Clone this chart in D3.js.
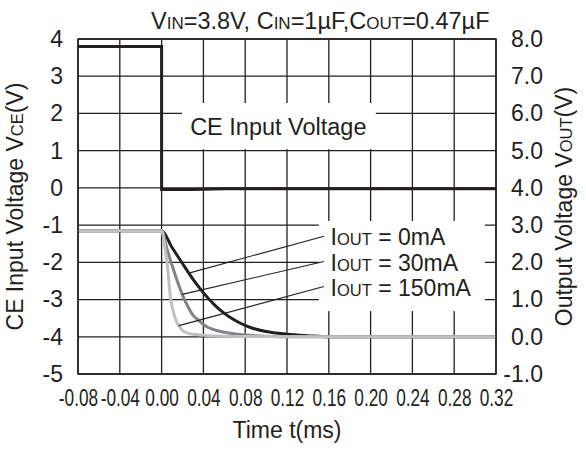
<!DOCTYPE html>
<html>
<head>
<meta charset="utf-8">
<script src="https://cdn.jsdelivr.net/npm/d3@7"></script>
<style>
  body { margin: 0; background: #fff; }
  text { font-family: "Liberation Sans", Arial, Helvetica, sans-serif; fill: #231f20; }
</style>
</head>
<body>
<svg id="viz" width="586" height="450"></svg>
<script>
// axis ticks
var timeTicks = [-0.08, -0.04, 0.00, 0.04, 0.08, 0.12, 0.16, 0.20, 0.24, 0.28, 0.32];
var ceTicks = [-5, -4, -3, -2, -1, 0, 1, 2, 3, 4];
var outTicks = [-1, 0, 1, 2, 3, 4, 5, 6, 7, 8];

// CE input voltage (left axis, V)
var ceTime = [-0.08, 0, 0, 0.03, 0.06, 0.32];
var ceVolt = [3.8, 3.8, -0.04, -0.04, -0.02, -0.02];

// output voltage (right axis, V)
var t0mA = [-0.08, 0, 0.01, 0.02, 0.026, 0.036, 0.045, 0.055, 0.065, 0.075, 0.085, 0.1, 0.12, 0.14, 0.16, 0.32];
var v0mA = [2.85, 2.85, 2.4, 1.97, 1.71, 1.32, 1.02, 0.74, 0.53, 0.37, 0.25, 0.14, 0.07, 0.03, 0, 0];
var t30mA = [-0.08, 0, 0.005, 0.01, 0.015, 0.02, 0.025, 0.03, 0.035, 0.042, 0.05, 0.06, 0.075, 0.09, 0.12, 0.32];
var v30mA = [2.85, 2.85, 2.38, 1.92, 1.5, 1.12, 0.82, 0.58, 0.45, 0.29, 0.19, 0.12, 0.06, 0.03, 0, 0];
var t150mA = [-0.08, 0, 0.003, 0.0055, 0.0085, 0.011, 0.0135, 0.0165, 0.02, 0.025, 0.0325, 0.045, 0.07, 0.32];
var v150mA = [2.85, 2.85, 2.45, 1.92, 1.05, 0.7, 0.46, 0.3, 0.17, 0.1, 0.06, 0.03, 0.01, 0];

// legend labels and where their leader lines touch the curves
var loadLabels = ["0mA", "30mA", "150mA"];
var leaderTime = [0.026, 0.0197, 0.0165];
var leaderVolt = [1.71, 1.14, 0.3];

var margins = {top: 39, right: 90, bottom: 76, left: 78};

function main() {
  var svg = d3.select("#viz"),
      width = +svg.attr("width"),
      height = +svg.attr("height");

  var xScale = d3.scaleLinear().domain([-0.08, 0.32]).range([margins.left, width - margins.right]);
  var yLeft = d3.scaleLinear().domain([-5, 4]).range([height - margins.bottom, margins.top]);
  var yRight = d3.scaleLinear().domain([-1, 8]).range([height - margins.bottom, margins.top]);
  var ink = "#231f20";

  // grid
  var grid = svg.append("g");
  grid.selectAll(".vgrid").data(timeTicks).enter().append("line")
    .attr("x1", d => xScale(d)).attr("x2", d => xScale(d))
    .attr("y1", yLeft(-5)).attr("y2", yLeft(4))
    .attr("stroke", ink).attr("stroke-width", 1.3);
  grid.selectAll(".hgrid").data(ceTicks).enter().append("line")
    .attr("x1", xScale(-0.08)).attr("x2", xScale(0.32))
    .attr("y1", d => yLeft(d)).attr("y2", d => yLeft(d))
    .attr("stroke", ink).attr("stroke-width", 1.3);

  // white boxes behind the annotations
  svg.append("rect")
    .attr("x", xScale(0.0195)).attr("y", yLeft(2.28))
    .attr("width", xScale(0.205) - xScale(0.0195)).attr("height", yLeft(1.04) - yLeft(2.28))
    .attr("fill", "#fff");
  svg.append("rect")
    .attr("x", xScale(0.1505)).attr("y", yRight(3.11))
    .attr("width", xScale(0.3094) - xScale(0.1505)).attr("height", yRight(0.69) - yRight(3.11))
    .attr("fill", "#fff");

  // axes
  var left = svg.append("g").attr("transform", "translate(" + margins.left + ",0)")
    .call(d3.axisLeft(yLeft).tickValues(ceTicks).tickSize(0).tickPadding(15).tickFormat(d => String(d)));
  var right = svg.append("g").attr("transform", "translate(" + (width - margins.right) + ",0)")
    .call(d3.axisRight(yRight).tickValues(outTicks).tickSize(0).tickFormat(d => d.toFixed(1)));
  var bottom = svg.append("g").attr("transform", "translate(0," + (height - margins.bottom) + ")")
    .call(d3.axisBottom(xScale).tickValues(timeTicks).tickSize(0).tickPadding(16).tickFormat(d => d.toFixed(2)));
  [left, right, bottom].forEach(function(a) {
    a.select(".domain").remove();
    a.selectAll("text").attr("font-family", null).attr("fill", ink).attr("font-size", 23);
  });
  right.selectAll("text").attr("x", 47).attr("text-anchor", "end");
  bottom.selectAll("text").attr("transform", "scale(0.75,1)");

  // curves
  var line = d3.line().x(d => xScale(d[0])).y(d => yRight(d[1])).curve(d3.curveMonotoneX);
  var series = [
    {t: t0mA, v: v0mA, color: "#231f20"},
    {t: t30mA, v: v30mA, color: "#828487"},
    {t: t150mA, v: v150mA, color: "#bfc0c2"}
  ];
  series.forEach(function(s) {
    svg.append("path")
      .datum(s.t.map((t, i) => [t, s.v[i]]))
      .attr("d", line)
      .attr("fill", "none").attr("stroke", s.color).attr("stroke-width", 3);
  });

  svg.append("path")
    .datum(ceTime.map((t, i) => [t, ceVolt[i]]))
    .attr("d", d3.line().x(d => xScale(d[0])).y(d => yLeft(d[1])))
    .attr("fill", "none").attr("stroke", ink).attr("stroke-width", 3);

  // border
  svg.append("rect")
    .attr("x", xScale(-0.08)).attr("y", yLeft(4))
    .attr("width", xScale(0.32) - xScale(-0.08)).attr("height", yLeft(-5) - yLeft(4))
    .attr("fill", "none").attr("stroke", ink).attr("stroke-width", 1.5);

  // annotations
  svg.append("text")
    .attr("x", xScale(0.1117)).attr("y", yLeft(1.66))
    .attr("dy", "0.36em").attr("text-anchor", "middle").attr("font-size", 23.5)
    .text("CE Input Voltage");

  var rowVolt = [2.68, 2.0, 1.33];
  loadLabels.forEach(function(lbl, i) {
    svg.append("line")
      .attr("x1", xScale(0.1553)).attr("y1", yRight(rowVolt[i] + 0.02))
      .attr("x2", xScale(leaderTime[i])).attr("y2", yRight(leaderVolt[i]))
      .attr("stroke", ink).attr("stroke-width", 1.1);
    var t = svg.append("text")
      .attr("x", xScale(0.1617)).attr("y", yRight(rowVolt[i]))
      .attr("dy", "0.36em").attr("font-size", 23);
    t.append("tspan").text("I");
    t.append("tspan").attr("font-size", 16.5).text("OUT");
    t.append("tspan").text(" = " + lbl);
  });

  // title
  var title = svg.append("text").attr("x", 151).attr("y", 29).attr("font-size", 23.5);
  [["V", 0], ["IN", 1], ["=3.8V, C", 0], ["IN", 1], ["=1\u00b5F,C", 0], ["OUT", 1], ["=0.47\u00b5F", 0]]
    .forEach(function(p) {
      title.append("tspan").attr("font-size", p[1] ? 17 : null).text(p[0]);
    });

  // axis titles
  svg.append("text")
    .attr("x", (xScale(-0.08) + xScale(0.32)) / 2).attr("y", 438)
    .attr("text-anchor", "middle").attr("font-size", 23)
    .text("Time t(ms)");

  var lt = svg.append("text")
    .attr("transform", "translate(23," + yLeft(-0.5) + ") rotate(-90)")
    .attr("text-anchor", "middle").attr("font-size", 23);
  lt.append("tspan").text("CE Input Voltage V");
  lt.append("tspan").attr("font-size", 16.5).text("CE");
  lt.append("tspan").text("(V)");

  var rt = svg.append("text")
    .attr("transform", "translate(572," + yLeft(-0.5) + ") rotate(-90)")
    .attr("text-anchor", "middle").attr("font-size", 23);
  rt.append("tspan").text("Output Voltage V");
  rt.append("tspan").attr("font-size", 16.5).text("OUT");
  rt.append("tspan").text("(V)");
}

main();
</script>
</body>
</html>
